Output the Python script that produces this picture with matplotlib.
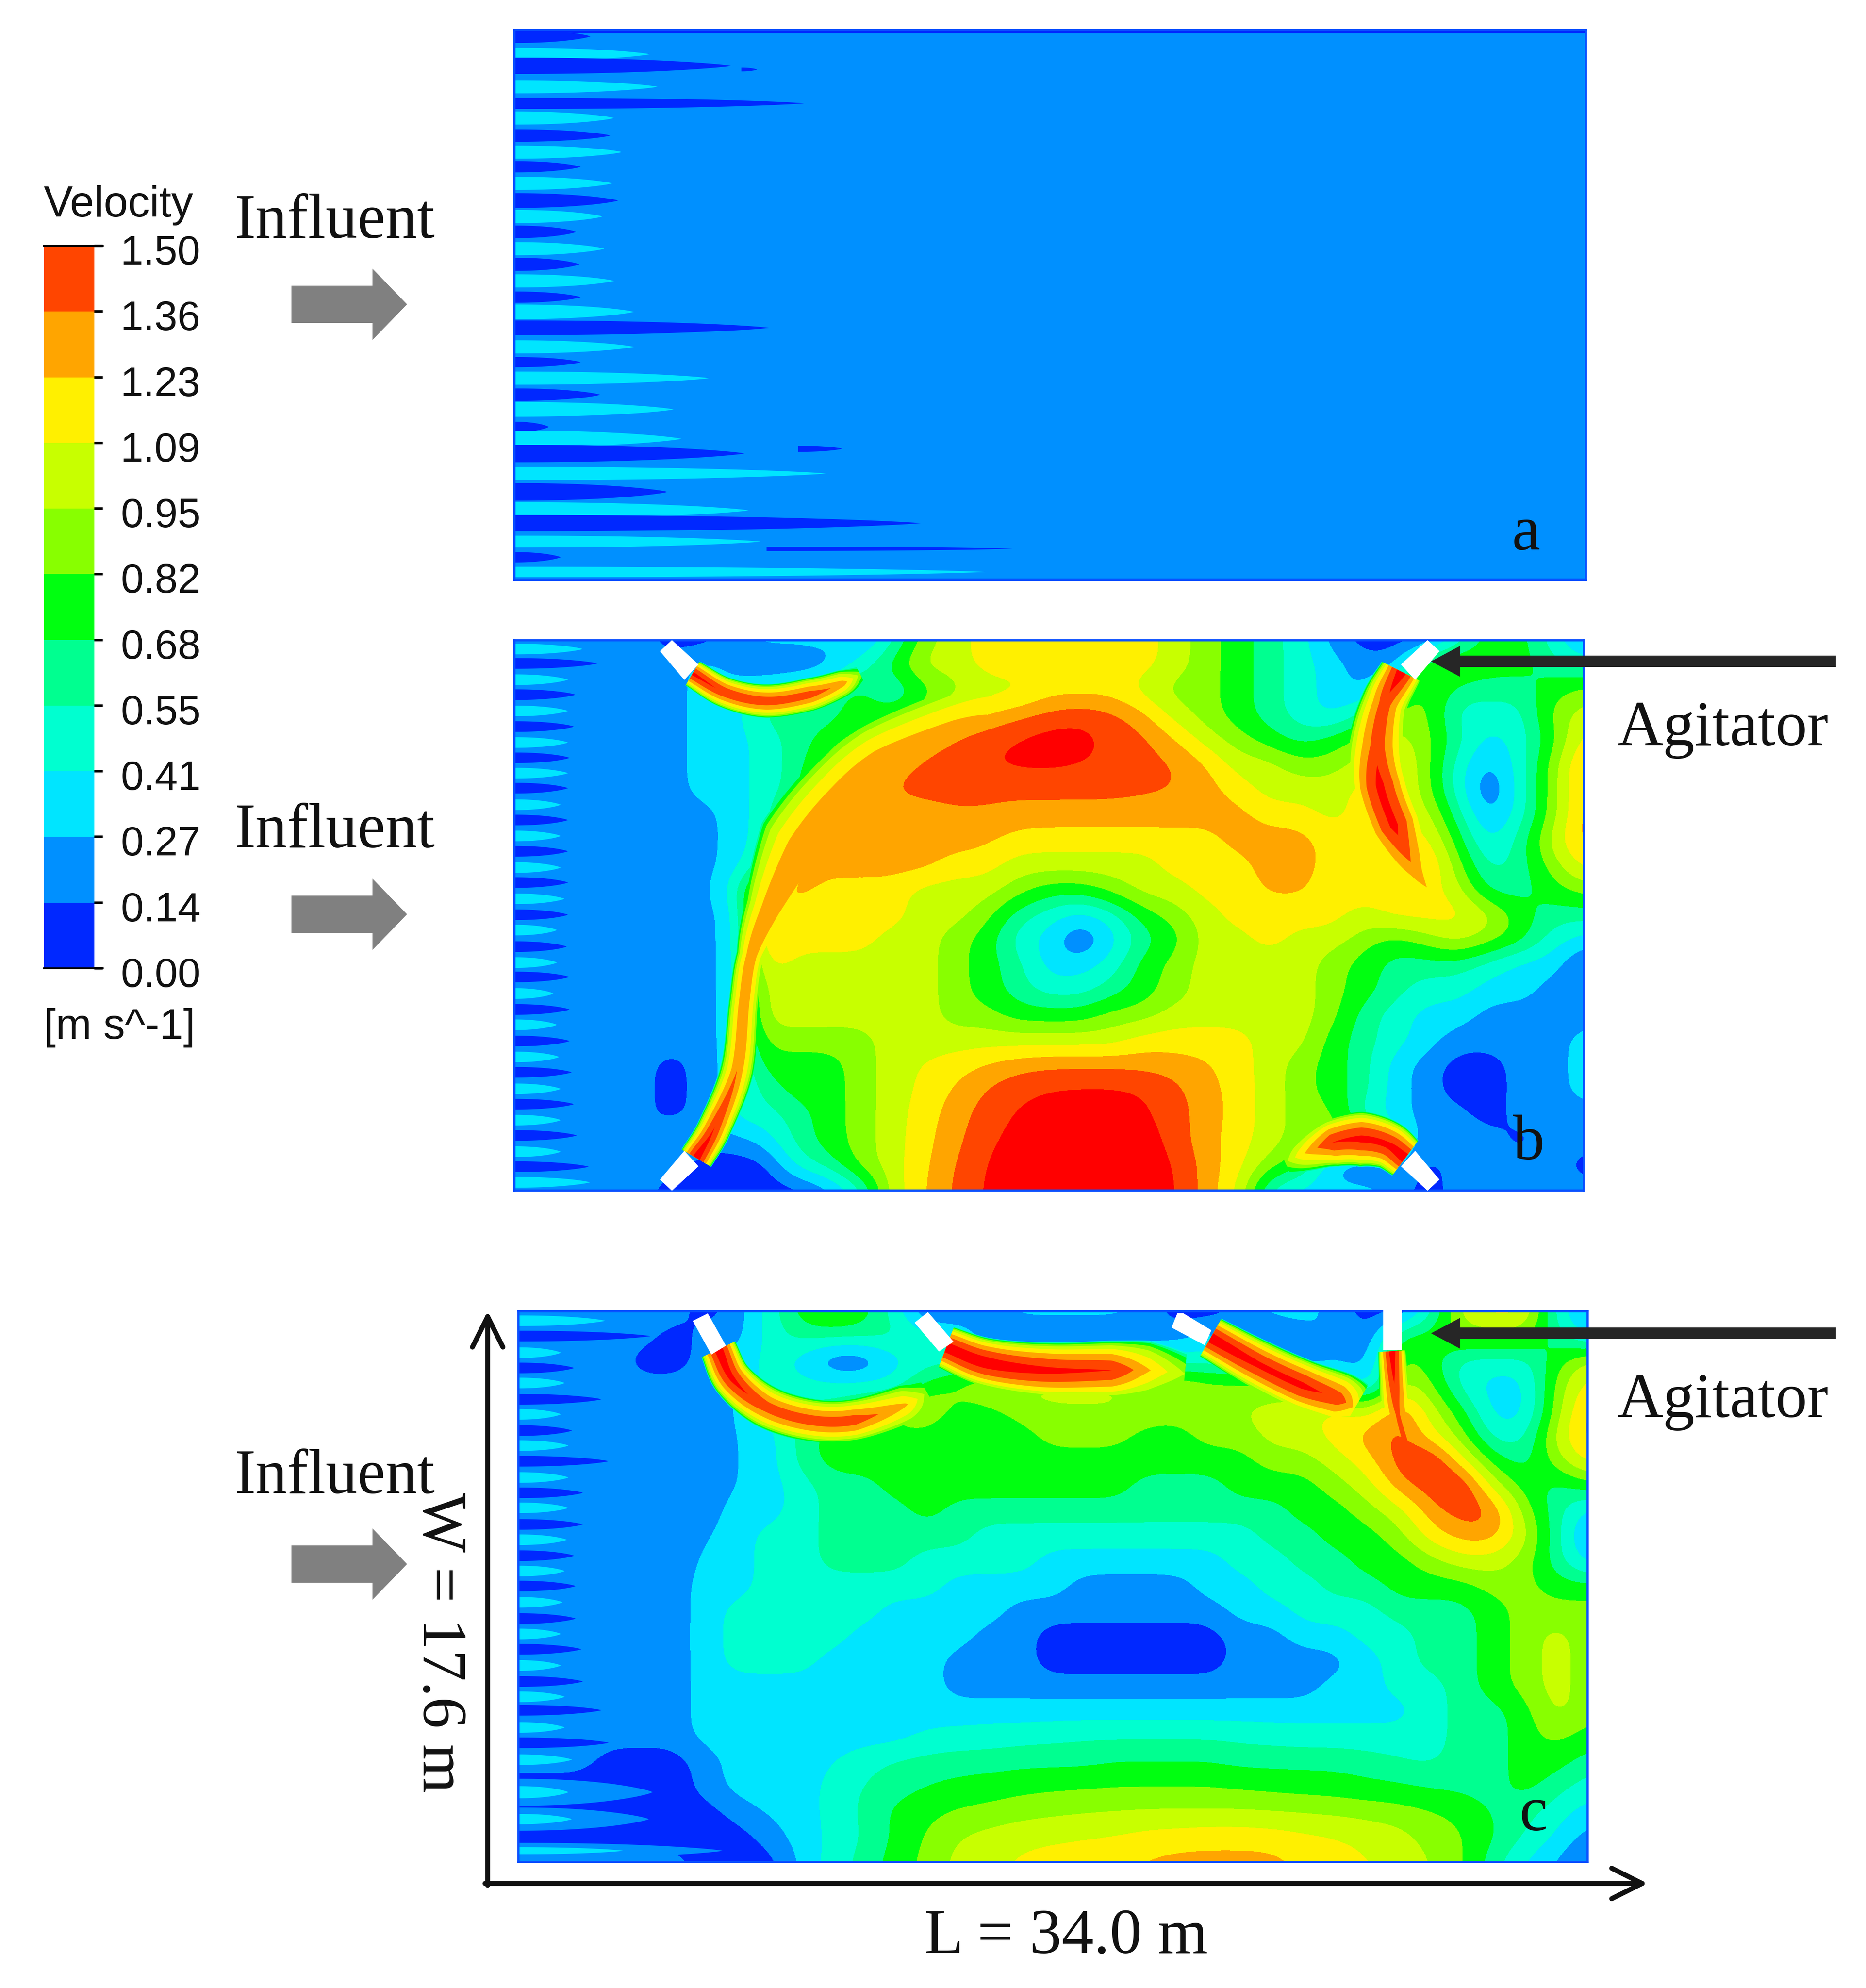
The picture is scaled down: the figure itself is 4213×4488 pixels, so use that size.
import numpy as np
import matplotlib
matplotlib.use("Agg")
import matplotlib.pyplot as plt
from matplotlib.colors import ListedColormap, BoundaryNorm
from matplotlib.cm import ScalarMappable
from matplotlib.patches import Polygon, FancyArrow, Rectangle

W_PX, H_PX = 4213, 4488
LENGTH, WIDTH = 34.0, 17.6

tick_labels = ["0.00", "0.14", "0.27", "0.41", "0.55", "0.68", "0.82", "0.95", "1.09", "1.23", "1.36", "1.50"]
levels = [float(s) for s in tick_labels]
band_colors = ["#0028FF", "#0090FF", "#00E5FF", "#00FFD0", "#00FF90", "#00FF10",
               "#88FF00", "#C8FF00", "#FFF000", "#FFA500", "#FF4500", "#FF0000"]

# velocity, cm/s, 35 columns (1 m apart) by 23 rows, top row first
speed_b = [
    [20,20,20,20,20,7,7,20,34,34,34,20,48,88,102,116,116,116,116,116,116,102,88,75,61,48,20,7,7,7,48,75,75,48,20],
    [20,20,20,20,20,20,34,20,7,7,20,48,75,102,102,116,116,116,116,116,116,102,88,75,61,48,34,20,20,88,88,75,75,61,48],
    [20,20,20,20,20,20,34,34,48,61,61,75,48,75,88,102,102,116,116,116,102,88,88,75,61,48,34,20,61,88,61,61,61,75,88],
    [20,20,20,20,20,20,34,34,61,61,61,75,75,88,116,122,132,140,145,140,128,102,88,75,61,48,34,61,88,88,48,48,48,88,102],
    [20,20,20,20,20,20,34,34,48,61,75,88,102,125,137,145,152,158,158,145,140,125,102,88,75,61,75,88,102,88,61,34,48,75,116],
    [20,20,20,20,20,20,34,34,48,61,88,116,130,140,145,150,153,153,150,145,140,138,125,102,102,88,88,102,116,88,48,20,48,88,130],
    [20,20,20,20,20,20,34,34,48,61,116,130,137,140,140,140,140,140,140,140,138,136,130,116,102,102,102,116,116,88,48,7,48,88,130],
    [20,20,20,20,20,20,20,34,48,88,130,128,130,130,134,134,130,130,130,130,130,130,130,130,116,116,102,116,116,102,61,20,48,88,130],
    [20,20,20,20,20,20,20,34,48,116,130,130,130,130,130,126,118,116,116,116,116,116,116,130,130,130,116,116,116,116,75,34,61,102,130],
    [20,20,20,20,20,20,20,34,61,130,130,130,130,130,116,116,102,102,102,102,102,116,116,116,130,130,116,116,116,130,88,48,61,88,116],
    [20,20,20,20,20,20,20,48,116,130,116,116,116,102,102,102,88,75,75,88,102,102,116,116,125,125,116,116,116,116,102,61,61,75,88],
    [20,20,20,20,20,20,20,34,130,116,116,116,116,102,102,88,61,48,34,48,75,88,102,116,116,116,116,102,116,116,116,102,75,61,61],
    [20,20,20,20,20,20,20,34,130,116,116,116,102,102,88,75,48,34,7,34,61,75,102,102,116,102,102,88,75,88,102,88,75,48,34],
    [20,20,20,20,20,20,20,34,116,102,102,102,102,102,88,75,61,34,34,48,75,88,102,102,102,102,88,75,61,61,61,48,34,34,7],
    [20,20,20,20,20,20,20,34,102,102,102,102,102,102,88,75,61,48,48,61,75,88,102,102,102,102,88,75,61,48,48,34,34,20,20],
    [20,20,20,20,20,20,20,34,102,102,102,102,102,102,88,88,75,75,75,88,88,102,102,102,102,102,88,61,48,34,34,20,20,20,20],
    [20,20,20,20,20,20,20,34,88,88,88,88,102,102,102,102,102,102,102,102,116,116,116,116,102,102,75,61,48,34,20,20,20,20,34],
    [20,20,20,20,20,7,20,34,75,75,75,88,102,110,116,125,132,135,135,135,132,130,125,116,102,88,75,61,34,20,7,7,20,20,34],
    [20,20,20,20,20,7,20,34,61,75,75,88,102,112,125,137,145,150,152,152,150,140,128,118,102,88,75,61,34,20,7,7,20,20,34],
    [20,20,20,20,20,7,20,48,48,61,75,88,102,116,130,142,152,160,160,160,153,142,130,118,102,88,88,48,34,20,20,7,20,20,20],
    [20,20,20,20,7,34,20,20,34,61,75,88,102,118,132,146,156,160,160,160,160,143,128,116,102,88,88,88,48,20,20,20,7,20,20],
    [20,20,20,20,20,20,7,7,7,48,61,88,102,120,136,150,162,162,162,162,162,150,130,116,88,75,20,7,34,7,20,20,20,20,7],
    [20,20,20,20,20,7,7,7,7,7,20,48,102,122,138,152,162,162,162,162,162,152,130,110,48,34,34,34,20,7,20,20,20,20,20],
]

speed_c = [
    [20,20,20,20,20,20,7,20,48,75,88,75,48,7,7,20,34,34,34,34,20,7,7,20,34,34,20,7,7,48,102,116,116,48,20],
    [20,20,20,20,20,7,20,20,48,61,61,61,61,48,48,7,7,7,7,7,20,20,34,7,7,20,34,7,75,75,88,88,88,61,34],
    [20,20,20,20,7,7,20,34,48,34,7,7,34,48,48,48,48,48,48,48,48,48,48,48,34,7,20,20,88,75,48,48,48,75,102],
    [20,20,20,20,20,20,20,27,48,48,48,48,48,75,88,102,102,102,102,102,88,102,88,88,88,88,75,20,102,88,48,34,34,88,116],
    [20,20,20,20,20,20,20,27,48,61,61,75,88,102,75,75,88,92,92,92,92,88,95,95,100,102,116,102,143,102,75,34,34,88,130],
    [20,20,20,20,20,20,20,27,34,61,75,75,75,75,61,75,75,88,88,88,75,75,88,88,102,102,116,130,143,116,88,48,48,102,130],
    [20,20,20,20,20,20,20,27,34,61,75,75,75,75,75,75,75,75,75,75,75,75,75,75,88,88,102,116,143,160,116,75,61,88,116],
    [20,20,20,20,20,20,20,27,34,48,61,61,75,75,75,75,75,75,75,75,61,61,61,75,75,75,88,102,130,143,160,102,75,61,75],
    [20,20,20,20,20,20,20,34,34,48,61,61,61,75,61,61,61,61,61,61,61,61,61,61,61,75,75,88,102,130,143,143,88,61,34],
    [20,20,20,20,20,20,26,34,48,48,61,61,61,61,61,48,48,48,48,48,48,48,48,48,61,61,75,75,88,116,130,130,102,61,20],
    [20,20,20,20,20,20,30,34,48,48,61,61,61,48,48,48,48,34,34,34,34,34,34,48,48,61,61,75,75,88,102,102,88,61,34],
    [20,20,20,20,20,20,34,34,48,48,48,48,48,48,34,34,34,34,20,20,20,20,34,34,48,48,61,61,75,75,75,88,88,75,75],
    [20,20,20,20,20,20,34,48,48,48,48,48,34,34,34,34,20,20,20,20,20,20,20,34,34,48,48,48,61,61,61,75,88,88,88],
    [20,20,20,20,20,20,34,48,48,48,48,34,34,34,34,20,20,7,7,7,7,7,7,20,20,34,34,48,48,61,61,75,88,102,88],
    [20,20,20,20,20,20,34,48,48,48,34,34,34,34,20,20,20,7,7,7,7,7,7,20,20,20,20,34,48,61,61,75,88,102,88],
    [20,20,20,20,20,20,34,34,34,34,34,34,34,34,20,20,20,20,20,20,20,20,20,20,20,20,34,34,48,48,61,75,88,102,88],
    [20,20,20,20,20,20,34,34,34,34,34,34,34,34,34,34,34,34,34,34,34,34,34,34,34,34,34,34,34,48,61,61,75,102,88],
    [20,20,20,20,20,20,34,34,34,34,34,34,34,44,46,48,50,52,54,54,54,54,54,52,50,48,48,48,48,48,61,61,75,88,75],
    [20,20,20,7,7,7,20,34,34,34,40,50,58,60,62,62,64,64,64,68,68,68,68,64,64,64,64,60,56,52,61,61,75,75,61],
    [7,7,7,7,7,7,20,34,34,34,46,56,62,68,72,75,78,80,81,82,82,82,82,80,78,76,75,72,70,66,64,62,75,61,48],
    [7,7,7,7,7,7,7,20,30,34,46,58,72,78,84,86,90,92,94,95,96,96,96,96,95,94,92,90,88,84,78,66,60,48,34],
    [7,7,7,7,7,7,7,7,20,34,44,56,70,84,95,100,104,106,108,110,114,116,118,118,116,112,110,105,100,90,84,70,55,40,20],
    [20,20,20,20,20,20,7,7,7,30,48,60,75,86,100,105,112,116,118,120,125,128,128,128,128,120,115,110,105,95,85,60,40,25,10],
]

# inlet streaks of panel a, metres; they alternate slow, fast, slow ...
streak_a_y = [.21,.78,1.15,1.82,2.35,2.82,3.38,3.91,4.38,4.91,5.46,5.97,6.46,7.0,7.5,8.03,8.55,9.02,
              9.53,10.14,10.63,11.14,11.67,12.14,12.7,13.08,13.55,14.19,14.78,15.37,15.78,16.37,16.87,17.34]
streak_a_end = [2.41,4.29,6.93,4.54,9.19,3.16,3.04,3.41,2.10,3.10,3.29,2.79,1.97,2.85,2.06,3.16,2.10,3.79,
                8.08,3.79,2.10,6.17,2.72,5.05,1.09,5.30,7.30,9.88,4.86,7.43,12.89,7.81,1.47,14.96]
streak_a_half = [.21,.21,.26,.21,.18,.21,.2,.21,.18,.21,.235,.21,.2,.21,.21,.21,.18,.235,
                 .235,.21,.165,.21,.2,.235,.165,.26,.28,.21,.28,.26,.26,.19,.165,.165]
# inlet streaks of panels b and c, they alternate fast, slow, fast ...
streak_b_y = [.28,.74,1.26,1.74,2.26,2.76,3.27,3.76,4.25,4.73,5.26,5.75,6.26,6.75,7.27,7.75,8.27,8.78,
              9.27,9.8,10.31,10.77,11.3,11.81,12.3,12.82,13.33,13.82,14.35,14.84,15.35,15.84,16.36,16.84,17.34]
streak_b_end = [2.17,2.64,1.7,1.94,1.7,1.89,1.7,1.75,1.7,1.7,1.47,1.7,1.47,1.7,1.47,1.7,1.59,1.7,
                1.35,1.66,1.35,1.75,1.24,1.75,1.35,1.75,1.42,1.82,1.47,1.89,1.47,1.98,1.47,2.36,2.4]
streak_c_y = [.3,.79,1.32,1.81,2.29,2.81,3.29,3.81,4.29,4.79,5.31,5.8,6.28,6.81,7.3,7.81,8.3,8.78,
              9.3,9.82,10.31,10.8,11.32,11.83,12.32,12.75,13.3,13.79,14.33]
streak_c_end = [2.76,4.2,1.35,1.77,1.47,2.64,1.35,1.7,1.59,2.87,1.59,2.05,1.59,2.05,1.54,1.77,1.47,1.82,
                1.4,1.82,1.35,2.0,1.35,2.05,1.47,2.64,1.47,2.87,1.7]
blob_c_y = [15.37, 16.23, 17.24]
blob_c_end = [4.27, 4.15, 6.5]
blob_c_half = [.43, .37, .25]
inner_c_end = [1.59, 1.7, 3.34]

# jets leaving the agitators: centre line (m), peak speed (m/s), half width at zero speed (m)
jet_b1_x = [5.67, 6.72, 8.01, 9.41, 10.46, 11.0]
jet_b1_y = [1.07, 1.68, 1.95, 1.74, 1.38, 1.1]
jet_b1_peak = [1.55, 1.48, 1.46, 1.44, 1.3, .9]
jet_b1_half = [.45, .5, .55, .55, .45, .3]

jet_b2_x = [5.79, 6.37, 7.08, 7.31, 7.54, 8.13, 9.18, 10.34, 11.74, 14.08, 15.48, 17.82]
jet_b2_y = [16.57, 15.59, 13.76, 11.57, 10.10, 8.64, 6.69, 5.22, 4.0, 2.84, 2.23, 1.74]
jet_b2_peak = [1.6, 1.5, 1.36, 1.36, 1.36, 1.36, 1.36, 1.36, 1.36, 1.3, 1.2, 1.1]
jet_b2_half = [.55, .55, .55, .5, .5, .9, 1.6, 1.6, 1.6, 1.5, 1.5, 1.5]

jet_b3_x = [28.2, 27.67, 27.44, 27.51, 27.97, 28.67, 29.4]
jet_b3_y = [1.01, 2.05, 3.39, 4.61, 5.95, 7.42, 8.4]
jet_b3_peak = [1.6, 1.45, 1.45, 1.55, 1.55, 1.3, 1.15]
jet_b3_half = [.7, .8, 1.0, 1.05, 1.05, 1.0, .85]

jet_b4_x = [24.5, 25.05, 25.99, 26.92, 27.74, 28.32]
jet_b4_y = [16.7, 16.45, 16.08, 15.96, 16.14, 16.57]
jet_b4_peak = [.9, 1.2, 1.5, 1.55, 1.55, 1.6]
jet_b4_half = [.5, .6, .8, .9, .8, .7]

jet_c1_x = [6.37, 6.84, 7.89, 9.29, 10.69, 12.33, 13.0]
jet_c1_y = [1.22, 2.2, 3.05, 3.48, 3.48, 2.99, 2.6]
jet_c1_peak = [1.6, 1.55, 1.45, 1.45, 1.45, 1.25, .9]
jet_c1_half = [.6, .65, .7, .7, .7, .7, .55]

jet_c2_x = [13.61, 14.9, 16.77, 18.87, 20.03, 21.2]
jet_c2_y = [1.16, 1.65, 1.89, 1.89, 1.89, 2.0]
jet_c2_peak = [1.6, 1.6, 1.55, 1.5, 1.25, .95]
jet_c2_half = [.7, .8, .9, .95, .95, .7]

jet_c3_x = [22.02, 23.54, 24.94, 26.1, 26.6]
jet_c3_y = [.85, 1.71, 2.38, 2.81, 3.1]
jet_c3_peak = [1.6, 1.55, 1.55, 1.45, 1.2]
jet_c3_half = [.7, .8, .85, .9, .9]

jet_c4_x = [27.79, 27.86, 27.97, 28.3]
jet_c4_y = [1.28, 2.32, 3.29, 4.5]
jet_c4_peak = [1.6, 1.5, 1.4, 1.4]
jet_c4_half = [.45, .5, .6, .8]


def ax_px(x0, y0, x1, y1):
    return fig.add_axes([x0 / W_PX, 1 - y1 / H_PX, (x1 - x0) / W_PX, (y1 - y0) / H_PX])


def streak(ax, y, end, half, color, start=0.0):
    xs = np.linspace(start, end, 60)
    t = (xs - start) / (end - start)
    h = half * (1 - t ** 2.2) ** 0.8
    ax.fill_between(xs, y - h, y + h, color=color, lw=0, zorder=40)


def jet_band(ax, jet, k):
    # outline of one velocity band round a jet, rounded through the read vertices
    xs, ys, peak, half = [np.array(v, float) for v in jet]
    px = np.r_[2 * xs[0] - xs[1], xs, 2 * xs[-1] - xs[-2]]
    py = np.r_[2 * ys[0] - ys[1], ys, 2 * ys[-1] - ys[-2]]
    s = np.linspace(0, len(xs) - 1, 40 * len(xs))
    i = np.minimum(s.astype(int), len(xs) - 2)
    t = s - i

    def spline(p, d=False):
        a, b, c, e = p[i], p[i + 1], p[i + 2], p[i + 3]
        if d:
            return 0.5 * (c - a + 2 * t * (2 * a - 5 * b + 4 * c - e) + 3 * t ** 2 * (3 * b - a - 3 * c + e))
        return 0.5 * (2 * b + t * (c - a) + t ** 2 * (2 * a - 5 * b + 4 * c - e) + t ** 3 * (3 * b - a - 3 * c + e))

    cx, cy = spline(px), spline(py)
    tx, ty = spline(px, True), spline(py, True)
    norm_len = np.hypot(tx, ty)
    nx, ny = -ty / norm_len, tx / norm_len
    pk = np.interp(s, np.arange(len(xs)), peak)
    hw = np.interp(s, np.arange(len(xs)), half)
    # flat topped profile, the core of a jet is wider than its flanks
    h = hw * (1 - np.clip(levels[k] / pk, 0, 1) ** 4)
    if h.max() <= 0:
        return
    ax.fill(np.r_[cx + nx * h, (cx - nx * h)[::-1]], np.r_[cy + ny * h, (cy - ny * h)[::-1]],
            color=band_colors[k], lw=0, zorder=2 * k + 1)


def panel(box, field=None, jets=()):
    ax = ax_px(*box)
    ax.set_facecolor(band_colors[1])
    if field is not None:
        vals = np.array(field) / 100.0
        dy = WIDTH / (vals.shape[0] - 1)
        # painted slowest band first, so a jet only shows where it beats the field
        for k in range(12):
            layer = ListedColormap([band_colors[k]])
            layer.set_under((0, 0, 0, 0))
            low = levels[k] if k > 0 else -1.0
            ax.imshow(vals, cmap=layer, norm=BoundaryNorm([low, 50.0], 1), aspect="auto",
                      interpolation="bicubic", interpolation_stage="data", zorder=2 * k,
                      extent=(-0.5, LENGTH + 0.5, WIDTH + dy / 2, -dy / 2))
            for j in jets:
                jet_band(ax, j, k)
    ax.set_xlim(0, LENGTH)
    ax.set_ylim(WIDTH, 0)
    ax.set_xticks([])
    ax.set_yticks([])
    for s in ax.spines.values():
        s.set_edgecolor("#0A50FF")
        s.set_linewidth(3.5)
        s.set_zorder(50)
    return ax


cmap = ListedColormap(band_colors[:11])
norm = BoundaryNorm(levels, cmap.N)

fig = plt.figure(figsize=(W_PX / 100, H_PX / 100), dpi=100, facecolor="white")

# panel a
ax_a = panel((1161, 67, 3580, 1309))
for i, (y, end, half) in enumerate(zip(streak_a_y, streak_a_end, streak_a_half)):
    streak(ax_a, y, end, half, band_colors[0] if i % 2 == 0 else band_colors[2])
streak(ax_a, 16.6, 15.8, .07, band_colors[0], start=8.0)
streak(ax_a, 1.27, 7.7, .06, band_colors[0], start=7.2)
streak(ax_a, 13.4, 10.4, .1, band_colors[0], start=9.0)
ax_a.axhline(0.03, color=band_colors[0], lw=7, zorder=45)
ax_a.axhline(17.58, color=band_colors[0], lw=3, zorder=45)

# panel b
ax_b = panel((1161, 1445, 3576, 2687), speed_b, [
    (jet_b1_x, jet_b1_y, jet_b1_peak, jet_b1_half),
    (jet_b2_x, jet_b2_y, jet_b2_peak, jet_b2_half),
    (jet_b3_x, jet_b3_y, jet_b3_peak, jet_b3_half),
    (jet_b4_x, jet_b4_y, jet_b4_peak, jet_b4_half),
])
for i, (y, end) in enumerate(zip(streak_b_y, streak_b_end)):
    streak(ax_b, y, end, .17, band_colors[2] if i % 2 == 0 else band_colors[0])

# panel c
ax_c = panel((1170, 2960, 3584, 4203), speed_c, [
    (jet_c1_x, jet_c1_y, jet_c1_peak, jet_c1_half),
    (jet_c2_x, jet_c2_y, jet_c2_peak, jet_c2_half),
    (jet_c3_x, jet_c3_y, jet_c3_peak, jet_c3_half),
    (jet_c4_x, jet_c4_y, jet_c4_peak, jet_c4_half),
])
for y, end, half, inner in zip(blob_c_y, blob_c_end, blob_c_half, inner_c_end):
    streak(ax_c, y, end, half, band_colors[1])
    streak(ax_c, y, inner, half * .45, band_colors[2])
for i, (y, end) in enumerate(zip(streak_c_y, streak_c_end)):
    streak(ax_c, y, end, .17, band_colors[2] if i % 2 == 0 else band_colors[0])

# colour bar
cax = ax_px(99, 555, 213, 2186)
cb = fig.colorbar(ScalarMappable(norm=norm, cmap=cmap), cax=cax, ticks=levels, spacing="uniform")
cb.outline.set_visible(False)
cax.set_yticklabels([])
cax.tick_params(axis="y", length=19 * .72, width=4, color="black")
cax.minorticks_off()

# everything else in picture pixels
ov = fig.add_axes([0, 0, 1, 1], facecolor="none")
ov.set_xlim(0, W_PX)
ov.set_ylim(H_PX, 0)
ov.axis("off")
ov.plot([99, 232], [555, 555], color="black", lw=3)
ov.plot([99, 232], [2186, 2186], color="black", lw=3)
for i, lab in enumerate(tick_labels):
    ov.text(453, 2186 - i * 1631 / 11 + 18, lab, ha="right", va="center", family="Liberation Sans",
            fontsize=93 * .72, color="#111111")

for verts in [
    [(1517, 1445), (1577, 1500), (1545, 1535), (1490, 1470)],
    [(3223, 1445), (3250, 1470), (3195, 1535), (3163, 1500)],
    [(1517, 2688), (1577, 2633), (1545, 2598), (1490, 2663)],
    [(3223, 2688), (3163, 2633), (3195, 2598), (3250, 2663)],
    [(1564, 2982), (1598, 2965), (1639, 3038), (1606, 3058)],
    [(2065, 2986), (2095, 2962), (2153, 3029), (2120, 3051)],
    [(2658, 2965), (2672, 2965), (2735, 3003), (2720, 3037), (2645, 2997)],
]:
    ov.add_patch(Polygon(verts, closed=True, fc="white", ec="none", zorder=5))
ov.add_patch(Rectangle((3123, 2955), 42, 93, fc="white", ec="none", zorder=5))

for yc in (687, 2064, 3531):
    ov.add_patch(FancyArrow(658, yc, 261, 0, width=84, head_width=161, head_length=78,
                            length_includes_head=True, fc="#808080", ec="none", zorder=6))
for yc in (1493, 3010):
    ov.add_patch(FancyArrow(4145, yc, -914, 0, width=26, head_width=70, head_length=66,
                            length_includes_head=True, fc="#262626", ec="none", zorder=6))

serif = dict(family="Liberation Serif", fontsize=143 * .72, color="#111111", va="baseline", zorder=7)
for yb in (537, 1913, 3371):
    ov.text(530, yb, "Influent", **serif)
ov.text(3652, 1682, "Agitator", **serif)
ov.text(3652, 3199, "Agitator", **serif)
ov.text(3414, 1241, "a", **serif)
ov.text(3416, 2617, "b", **serif)
ov.text(3430, 4132, "c", **serif)
ov.text(2087, 4409, "L = 34.0 m", family="Liberation Serif", fontsize=145 * .72, color="#111111", va="baseline", zorder=7)
ov.text(990, 3709, "W = 17.6 m", rotation=-90, ha="center", family="Liberation Serif",
        fontsize=142 * .72, color="#111111", va="center", zorder=7)

ov.text(99, 489, "Velocity", family="Liberation Sans", fontsize=98 * .72, color="#111111", va="baseline")
ov.text(99, 2345, "[m s^-1]", family="Liberation Sans", fontsize=97 * .72, color="#111111", va="baseline")

axis_style = dict(arrowstyle="->,head_length=0.9,head_width=0.45", color="#111111", lw=8,
                  mutation_scale=55, shrinkA=0, shrinkB=0)
ov.annotate("", xy=(1101, 2960), xytext=(1101, 4256), arrowprops=axis_style)
ov.annotate("", xy=(3720, 4252), xytext=(1095, 4252), arrowprops=axis_style)

fig.savefig("out.png", dpi=100)
